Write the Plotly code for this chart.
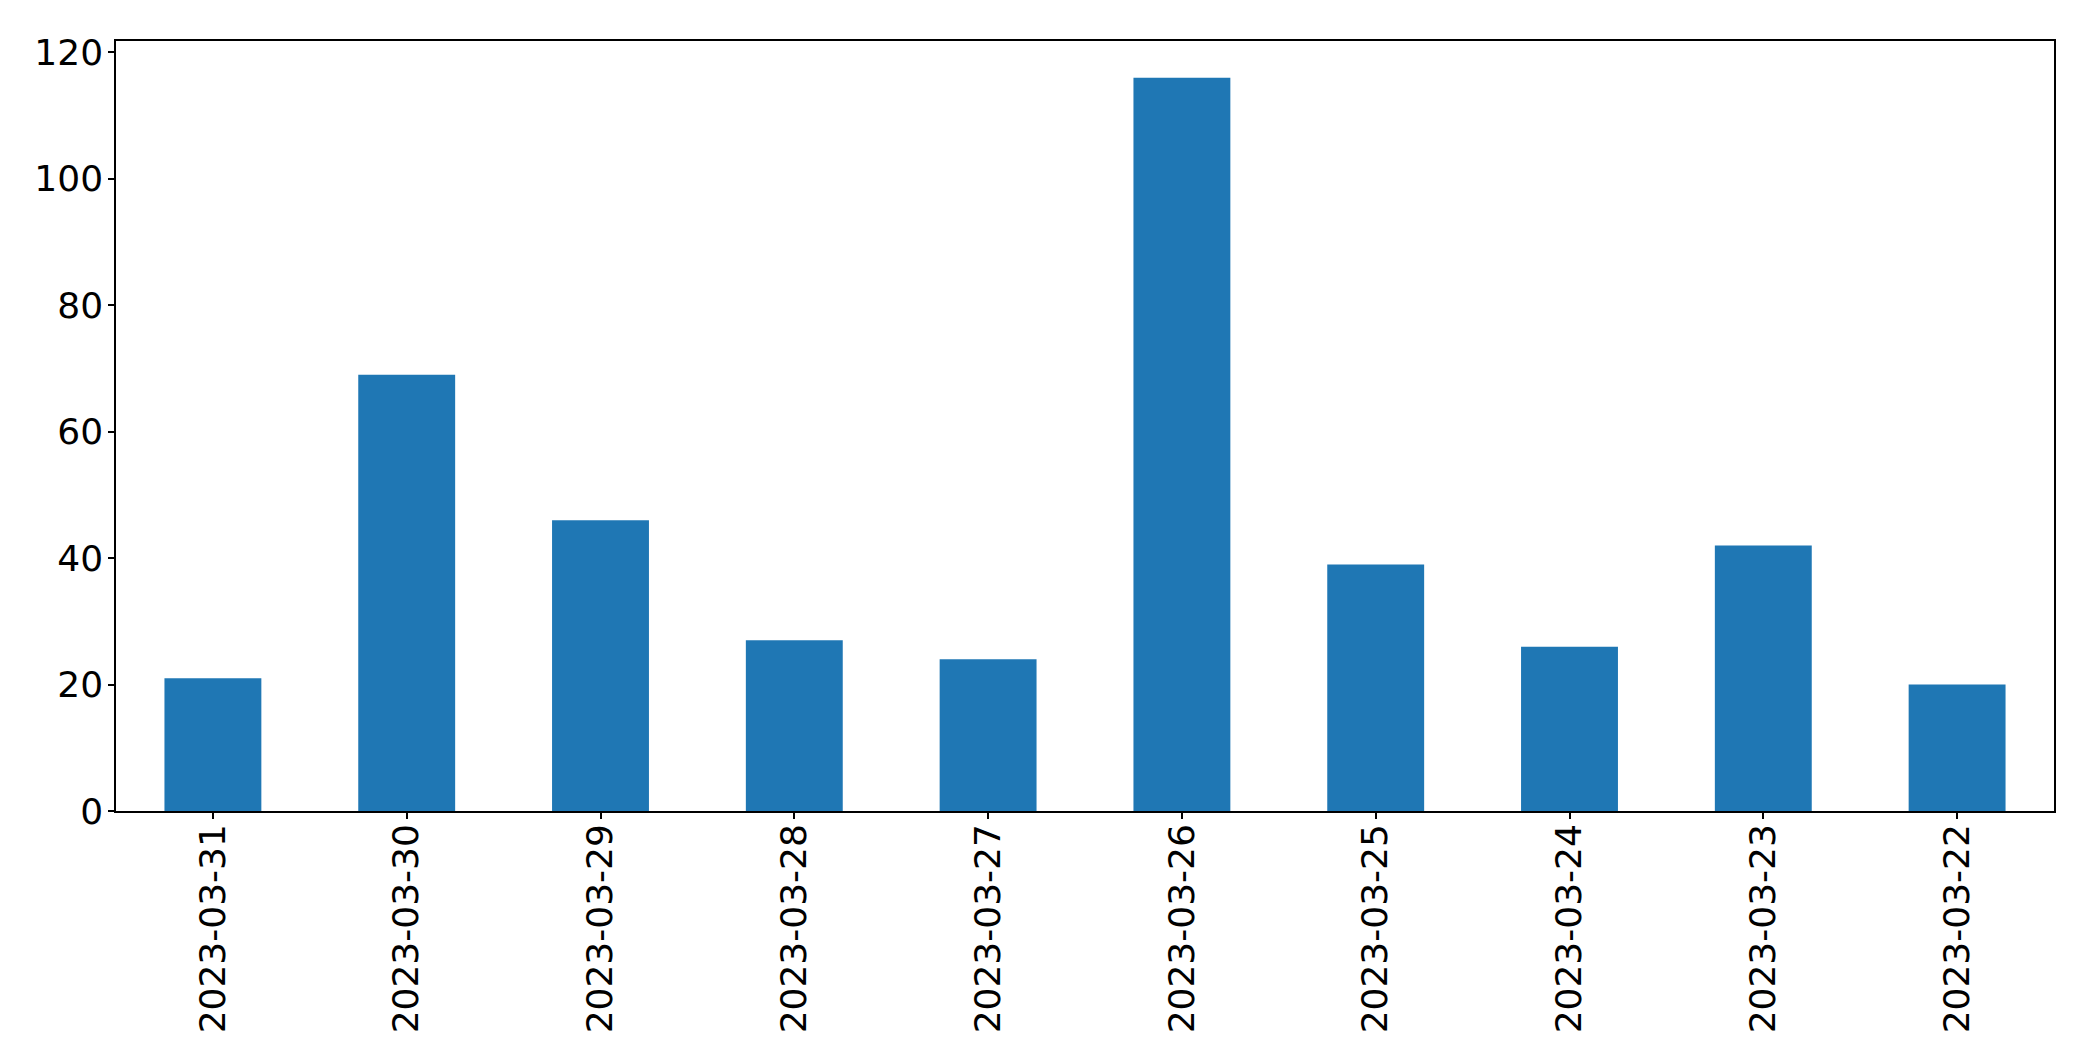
import plotly.graph_objects as go

dates = ["2023-03-31", "2023-03-30", "2023-03-29", "2023-03-28", "2023-03-27",
         "2023-03-26", "2023-03-25", "2023-03-24", "2023-03-23", "2023-03-22"]
counts = [21, 69, 46, 27, 24, 116, 39, 26, 42, 20]
y_ticks = [0, 20, 40, 60, 80, 100, 120]

fig = go.Figure(go.Bar(x=dates, y=counts, width=0.5, marker=dict(color="#1f77b4", line=dict(width=0))))

fig.update_layout(
    width=2077, height=1047,
    margin=dict(l=108, r=31, t=33, b=244, autoexpand=False),
    plot_bgcolor="white", paper_bgcolor="white",
    font=dict(family="DejaVu Sans", size=36, color="black"),
    showlegend=False,
)
fig.update_xaxes(
    type="category", range=[-0.5, 9.5], tickangle=-90,
    showline=True, mirror=True, linecolor="black", linewidth=1.5,
    ticks="outside", ticklen=6, tickcolor="black", tickwidth=1.5,
    showgrid=False, zeroline=False, ticklabelstandoff=-9,
)
fig.update_yaxes(
    range=[0, 121.8], tickvals=y_ticks,
    showline=True, mirror=True, linecolor="black", linewidth=1.5,
    ticks="outside", ticklen=6, tickcolor="black", tickwidth=1.5,
    showgrid=False, zeroline=False, ticklabelstandoff=-2,
)

fig.write_html("out.html")
